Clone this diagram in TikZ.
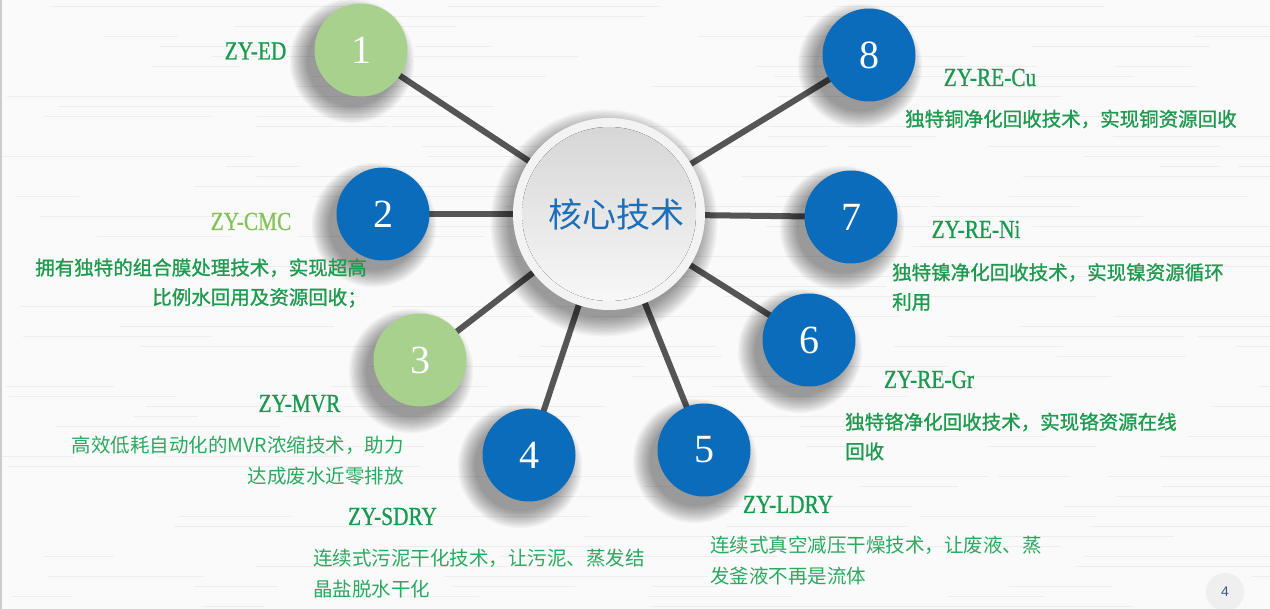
\documentclass[tikz,border=0pt]{standalone}
\usepackage{fontspec}
\setmainfont{Liberation Serif}
\newfontfamily\cjk{Noto Sans CJK SC}
\newfontfamily\cjkb[FakeBold=1.2]{Noto Sans CJK SC}
\newfontfamily\lab[FakeStretch=0.82,FakeBold=0.8]{Liberation Serif}
\newfontfamily\pn{Liberation Sans}
\definecolor{cbg}{HTML}{FAFAFA}
\definecolor{cbgline}{HTML}{EDEDED}
\definecolor{cblue}{HTML}{0B6CBB}
\definecolor{cgreen}{HTML}{A9D18E}
\definecolor{cline}{HTML}{555555}
\definecolor{ctag}{HTML}{1A9A50}
\definecolor{ctaglight}{HTML}{86C25C}
\definecolor{ctext}{HTML}{1F9A4E}
\definecolor{ctextl}{HTML}{2AAA60}
\definecolor{ccore}{HTML}{1E6EB8}
\definecolor{crim}{HTML}{F3F3F3}
\definecolor{cpage}{HTML}{EFEFEF}
\definecolor{cpnum}{HTML}{3D5A80}
\pgfdeclarelayer{bg}
\pgfdeclarelayer{lines}
\pgfdeclarelayer{shade}
\pgfsetlayers{bg,lines,shade,main}
\begin{document}
\begin{tikzpicture}[x=1pt,y=-1pt,
  num/.style={circle, minimum size=93pt, inner sep=0pt, text=white,
    font=\fontsize{40}{40}\selectfont},
  bluenum/.style={num, fill=cblue},
  greennum/.style={num, fill=cgreen},
  conn/.style={line width=6pt, draw=cline},
  tag/.style={font=\lab\fontsize{26}{26}\selectfont, text=ctag, inner sep=0pt, anchor=base},
  desc/.style={font=\cjkb\fontsize{19.5}{29.5}\selectfont, text=ctext, inner sep=0pt},
  descl/.style={font=\cjk\fontsize{19.5}{30.5}\selectfont, text=ctextl, inner sep=0pt},
  bgline/.style={draw=cbgline, line width=0.9pt},
  softdisc/.style={fill=black, opacity=0.03}
]
\useasboundingbox (0,0) rectangle (1270,609);
\begin{pgfonlayer}{bg}
  \fill[cbg] (0,0) rectangle (1270,609);
  \pgfmathsetseed{11}
  \foreach \r in {0,...,60}{
    \foreach \k in {0,...,3}{
      \pgfmathsetmacro\xa{rnd*1270}
      \pgfmathsetmacro\len{60+rnd*220}
      \draw[bgline] (\xa,{6+\r*10}) -- ++(\len,0);
    }
  }
  \draw[draw=black!20, line width=1.5pt] (0.75,0) -- (0.75,609);
\end{pgfonlayer}

% centre
\node[circle, minimum size=192pt, inner sep=0pt, fill=crim] (core) at (609,214) {};
\fill[top color=black!16, bottom color=black!3] (core.center) circle (87pt);
\node[font=\cjk\fontsize{34}{34}\selectfont, text=ccore, inner sep=0pt] (coretxt) at (616,215) {核心技术};

% numbered circles
\node[greennum] (n1) at (361,50) {1};
\node[bluenum]  (n2) at (383,214) {2};
\node[greennum] (n3) at (420,360) {3};
\node[bluenum]  (n4) at (529,455) {4};
\node[bluenum]  (n5) at (704,450) {5};
\node[bluenum]  (n6) at (809,340) {6};
\node[bluenum]  (n7) at (851,217) {7};
\node[bluenum]  (n8) at (869,55) {8};

\begin{pgfonlayer}{lines}
  \foreach \n in {n1,n2,n3,n4,n5,n6,n7,n8}{
    \draw[conn] (\n.center) -- (core.center);
  }
\end{pgfonlayer}

\begin{pgfonlayer}{shade}
  \foreach \n in {n1,n2,n3,n4,n5,n6,n7,n8}{
    \foreach \i in {1,...,14}{
      \fill[softdisc] ([shift={(-9,11)}]\n.center) circle ({(46.5+17-1.3*\i)*1pt});
    }
  }
  \foreach \i in {1,...,14}{
    \fill[softdisc] ([shift={(-5,9)}]core.center) circle ({(96+19-1.4*\i)*1pt});
  }
\end{pgfonlayer}

% tags
\node[tag] (t1) at (255.5,59.5) {ZY-ED};
\node[tag, text=ctaglight] (t2) at (251,230) {ZY-CMC};
\node[tag] (t3) at (299.5,412) {ZY-MVR};
\node[tag] (t4) at (392.5,525) {ZY-SDRY};
\node[tag] (t5) at (788,513) {ZY-LDRY};
\node[tag] (t6) at (929,388) {ZY-RE-Gr};
\node[tag] (t7) at (976,238) {ZY-RE-Ni};
\node[tag] (t8) at (990,86) {ZY-RE-Cu};

% descriptions
\node[desc, align=right, anchor=east] (d2) at (367,283) {拥有独特的组合膜处理技术，实现超高\\比例水回用及资源回收；};
\node[descl, align=right, anchor=east] (d3) at (404,460.5) {高效低耗自动化的MVR浓缩技术，助力\\达成废水近零排放};
\node[descl, align=left, anchor=west] (d4) at (313,573.5) {连续式污泥干化技术，让污泥、蒸发结\\晶盐脱水干化};
\node[descl, align=left, anchor=west] (d5) at (710,560.5) {连续式真空减压干燥技术，让废液、蒸\\发釜液不再是流体};
\node[desc, align=left, anchor=west] (d6) at (845,436.5) {独特铬净化回收技术，实现铬资源在线\\回收};
\node[desc, align=left, anchor=west] (d7) at (892,287) {独特镍净化回收技术，实现镍资源循环\\利用};
\node[desc, anchor=west] (d8) at (905,119) {独特铜净化回收技术，实现铜资源回收};

% page number
\node[circle, fill=cpage, minimum size=38pt, inner sep=0pt, text=cpnum,
  font=\pn\fontsize{14}{14}\selectfont] (page) at (1225,592) {4};
\end{tikzpicture}
\end{document}
